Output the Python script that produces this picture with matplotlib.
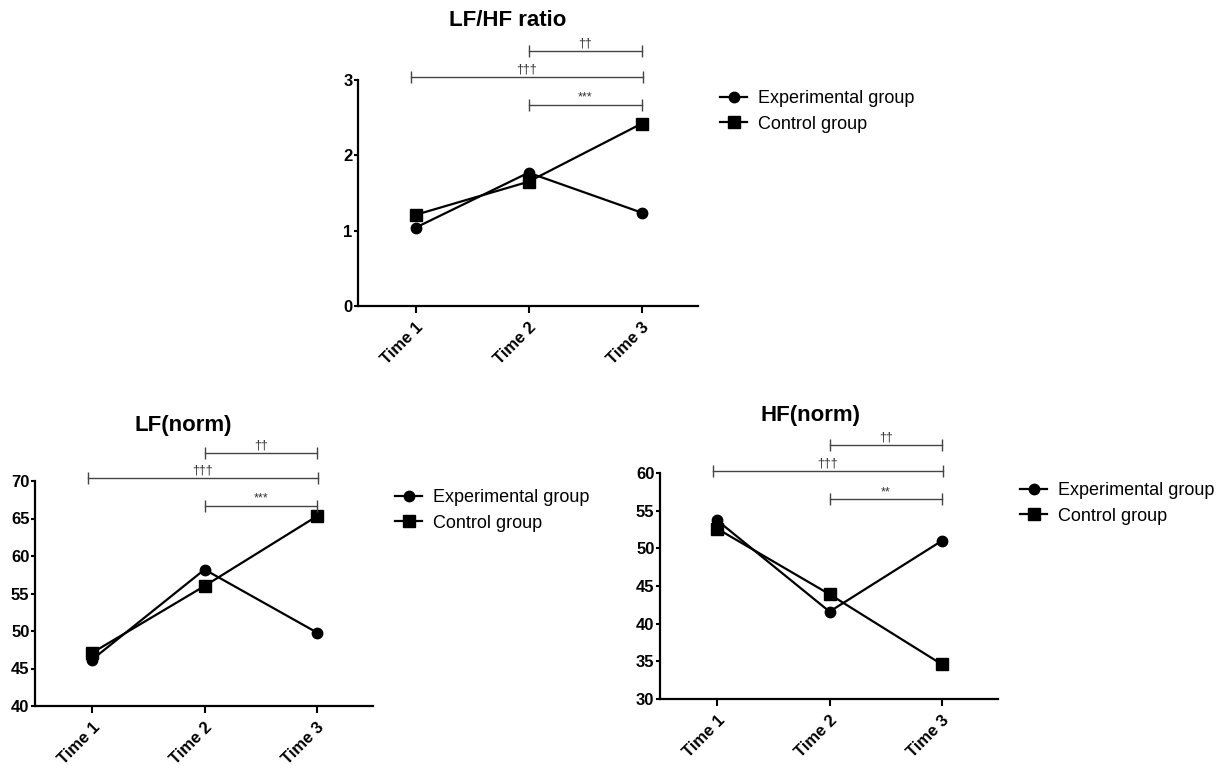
import matplotlib
matplotlib.use('Agg')
import matplotlib.pyplot as plt

plt.rcParams['font.family'] = ['Liberation Sans', 'DejaVu Sans']

# Data
times = ['Time 1', 'Time 2', 'Time 3']

lfhf_exp = [1.04, 1.77, 1.24]
lfhf_ctrl = [1.21, 1.65, 2.42]

lf_exp = [46.2, 58.2, 49.8]
lf_ctrl = [47.1, 56.0, 65.3]

hf_exp = [53.7, 41.6, 51.0]
hf_ctrl = [52.6, 43.9, 34.6]

group_labels = ['Experimental group', 'Control group']

# significance labels: (Time2 vs Time3 upper, Time1 vs Time3, Time2 vs Time3 lower)
lfhf_sig = ['††', '†††', '***']
lf_sig = ['††', '†††', '***']
hf_sig = ['††', '†††', '**']

fig = plt.figure(figsize=(12.27, 7.69), dpi=100)
W, H = 1227, 769


def px_axes(left, right, top, bottom):
    return fig.add_axes([left / W, 1 - bottom / H, (right - left) / W, (bottom - top) / H])


def draw_panel(ax, exp, ctrl, ylim, yticks, sig, bar_levels):
    x = [1, 2, 3]
    ax.plot(x, exp, color='black', lw=1.6, marker='o', ms=7.5, label=group_labels[0])
    ax.plot(x, ctrl, color='black', lw=1.6, marker='s', ms=8, label=group_labels[1])
    ax.set_xlim(0.49, 3.5)
    ax.set_ylim(*ylim)
    ax.set_yticks(yticks)
    ax.set_xticks(x)
    ax.set_xticklabels(times, rotation=45, ha='right', rotation_mode='anchor')
    for s in ['top', 'right']:
        ax.spines[s].set_visible(False)
    for s in ['left', 'bottom']:
        ax.spines[s].set_linewidth(1.6)
    ax.tick_params(axis='y', length=3, width=1.5, pad=1, labelsize=12)
    ax.tick_params(axis='x', length=5, width=1.5, pad=5, labelsize=12)
    for lab in ax.get_xticklabels() + ax.get_yticklabels():
        lab.set_fontweight('bold')

    spans = [(2, 3), (0.96, 3.01), (2, 3)]
    for (x1, x2), yb, label in zip(spans, bar_levels, sig):
        ax.plot([x1, x2], [yb, yb], color='#444444', lw=1, marker='|', ms=9,
                mew=1, clip_on=False)
        ax.annotate(label, xy=((x1 + x2) / 2, yb), xytext=(0, 1),
                    textcoords='offset points', ha='center', va='bottom',
                    fontsize=9, color='#333333', annotation_clip=False)


def add_legend(ax, left_px, top_px):
    ax.legend(loc='upper left', bbox_to_anchor=(left_px / W, 1 - top_px / H),
              bbox_transform=fig.transFigure, frameon=False, fontsize=13,
              handlelength=1.5, handletextpad=0.6, labelspacing=0.48,
              borderpad=0, borderaxespad=0)


# LF/HF ratio
ax1 = px_axes(358, 698, 80, 306)
draw_panel(ax1, lfhf_exp, lfhf_ctrl, (0, 3), [0, 1, 2, 3], lfhf_sig, [3.385, 3.04, 2.67])
fig.text(508 / W, 1 - 20 / H, 'LF/HF ratio', ha='center', va='center',
         fontsize=16, fontweight='bold')
add_legend(ax1, 720, 90)

# LF(norm)
ax2 = px_axes(35, 373, 481, 706)
draw_panel(ax2, lf_exp, lf_ctrl, (40, 70), [40, 45, 50, 55, 60, 65, 70], lf_sig,
           [73.7, 70.4, 66.7])
fig.text(183 / W, 1 - 425 / H, 'LF(norm)', ha='center', va='center',
         fontsize=16, fontweight='bold')
add_legend(ax2, 395, 489)

# HF(norm)
ax3 = px_axes(660, 998, 473, 699)
draw_panel(ax3, hf_exp, hf_ctrl, (30, 60), [30, 35, 40, 45, 50, 55, 60], hf_sig,
           [63.7, 60.3, 56.5])
fig.text(810 / W, 1 - 416 / H, 'HF(norm)', ha='center', va='center',
         fontsize=16, fontweight='bold')
add_legend(ax3, 1020, 482)

fig.savefig('out.png', dpi=100)
